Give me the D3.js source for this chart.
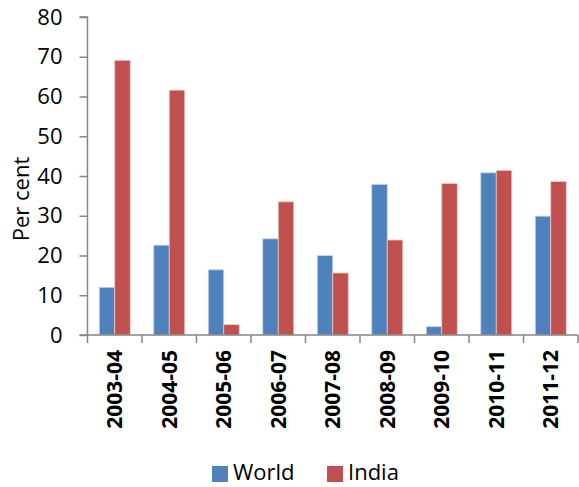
<!DOCTYPE html>
<html><head><meta charset="utf-8">
<script src="https://cdn.jsdelivr.net/npm/d3@7"></script>
<style>
html,body{margin:0;padding:0;background:#fff;}
svg{display:block;font-family:"Open Sans",sans-serif;}
</style></head>
<body>
<svg id="chart" width="579" height="487"></svg>
<script>
const categories = ["2003-04","2004-05","2005-06","2006-07","2007-08","2008-09","2009-10","2010-11","2011-12"];
const seriesNames = ["World","India"];
const worldValues = [12.0, 22.6, 16.4, 24.2, 20.0, 37.9, 2.1, 40.8, 29.9];
const indiaValues = [69.1, 61.6, 2.6, 33.5, 15.6, 23.9, 38.1, 41.4, 38.6];
const yTicks = [0,10,20,30,40,50,60,70,80];
const colors = ["#4F81BD","#C0504D"];
const yTitle = "Per cent";

const svg = d3.select("#chart");
const pLeft = 87.5, pRight = 578, pTop = 17, pBottom = 335;

const x = d3.scaleBand().domain(categories).range([pLeft, pRight]);
const xs = d3.scaleBand().domain(seriesNames).range([0, x.bandwidth()]).paddingInner(0).paddingOuter(0.76);
const y = d3.scaleLinear().domain([0,80]).range([pBottom, pTop]);

const data = categories.map((c,i)=>({cat:c, vals:[worldValues[i], indiaValues[i]]}));

const g = svg.append("g");
g.selectAll("g.cat").data(data).join("g").attr("class","cat")
  .attr("transform", d=>`translate(${x(d.cat)},0)`)
  .selectAll("rect").data(d=>d.vals.map((v,j)=>({name:seriesNames[j], v, j})))
  .join("rect")
  .attr("x", d=>xs(d.name))
  .attr("width", xs.bandwidth())
  .attr("y", d=>y(d.v))
  .attr("height", d=>y(0)-y(d.v))
  .attr("fill", d=>colors[d.j])
  .attr("stroke", d=> d.j===0 ? "#c9d7ea" : "#ecc6c5")
  .attr("stroke-width", 0.8);

// Y axis
const yAxis = d3.axisLeft(y).tickValues(yTicks).tickSize(8).tickPadding(17).tickFormat(d3.format("d"));
const ya = svg.append("g").attr("transform", `translate(${pLeft},0)`).call(yAxis);
ya.select(".domain").attr("stroke","#868686").attr("stroke-width",1.5).attr("d", `M-8,${pTop}H0V${pBottom}H-8`);
ya.selectAll(".tick line").attr("stroke","#868686").attr("stroke-width",1.5);
ya.selectAll(".tick text").attr("font-size","22px").attr("fill","#000").attr("font-family","Open Sans, sans-serif");

// X axis
const xAxis = d3.axisBottom(x).tickSize(0).tickFormat(d=>d);
const xa = svg.append("g").attr("transform", `translate(0,${pBottom})`).call(xAxis);
xa.select(".domain").attr("stroke","#868686").attr("stroke-width",1.5).attr("d", `M${pLeft},0H${pRight}`);
const bounds = categories.map(c=>x(c)).concat([pRight]);
xa.selectAll("line.bt").data(bounds).join("line").attr("class","bt")
  .attr("x1",d=>d).attr("x2",d=>d).attr("y1",0).attr("y2",8)
  .attr("stroke","#868686").attr("stroke-width",1.5);
xa.selectAll(".tick text")
  .attr("transform","rotate(-90)")
  .attr("text-anchor","end")
  .attr("x",-15).attr("y",0).attr("dy","0.36em")
  .attr("font-size","21px").attr("font-weight","bold").attr("fill","#000")
  .attr("font-family","Open Sans, sans-serif");

// Y title
svg.append("text").attr("transform",`translate(29,199) rotate(-90)`)
  .attr("text-anchor","middle").attr("font-size","22px").attr("fill","#000").text(yTitle);

// Legend
const legend = svg.append("g");
const lx = [212, 327];
seriesNames.forEach((n,i)=>{
  legend.append("rect").attr("x",lx[i]).attr("y",466).attr("width",16).attr("height",16).attr("fill",colors[i]);
  legend.append("text").attr("x",lx[i]+21).attr("y",480).attr("font-size","22px").attr("fill","#000").text(n);
});
</script>
</body></html>
